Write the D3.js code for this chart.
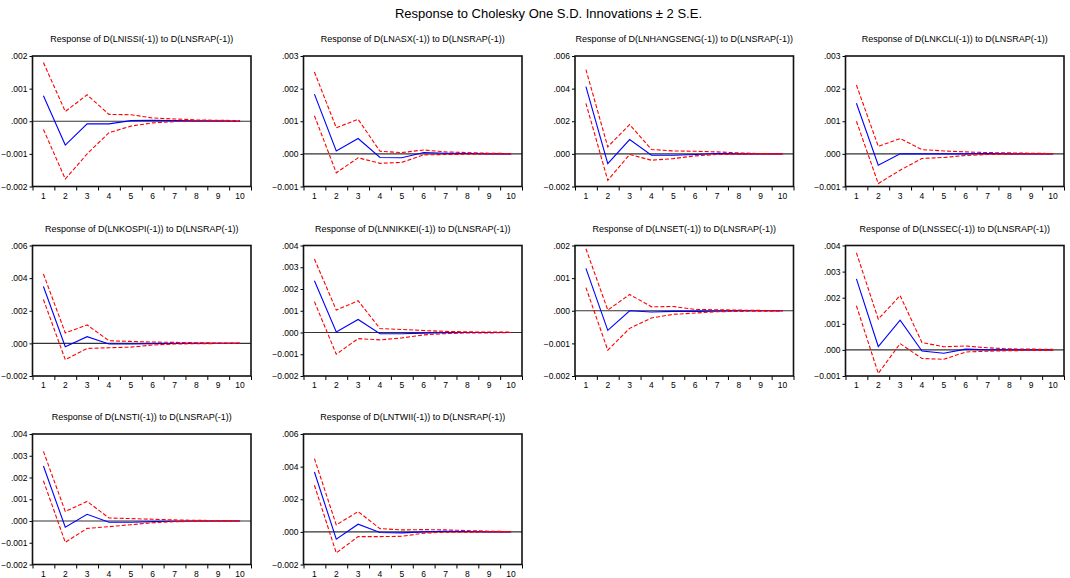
<!DOCTYPE html>
<html>
<head>
<meta charset="utf-8">
<script src="https://cdn.jsdelivr.net/npm/d3@7"></script>
<style>
  html, body { margin: 0; padding: 0; background: #fff; }
  svg { display: block; font-family: Arial, "Liberation Sans", sans-serif; }
</style>
</head>
<body>
<svg id="chart" width="1070" height="578"></svg>
<script>
// Impulse responses to a one S.D. shock in D(LNSRAP(-1)), horizon 1..10
const periods = [1, 2, 3, 4, 5, 6, 7, 8, 9, 10];

const markets = ["LNISSI", "LNASX", "LNHANGSENG", "LNKCLI", "LNKOSPI",
                 "LNNIKKEI", "LNSET", "LNSSEC", "LNSTI", "LNTWII"];

const response = [
  [0.00078, -0.00073, -0.00008, -0.00008, 0.00002, 0.00003, 0.00002, 0.00001, 0.00001, 0.0],
  [0.00183, 0.00009, 0.00047, -0.00011, -0.00012, 0.00004, 0.00002, 0.00001, 0.0, 0.0],
  [0.00412, -0.0006, 0.00088, -0.00008, -0.00008, -0.00004, 0.00002, 0.0, 0.0, 0.0],
  [0.00155, -0.00035, 0.0, 0.0, 0.0, 0.0, 0.00001, 0.0, 0.0, 0.0],
  [0.00349, -0.0002, 0.00041, -0.00004, -0.00004, -0.00002, -0.00001, 0.0, 0.0, 0.0],
  [0.00238, 0.00002, 0.0006, -0.00006, -0.00006, -0.00003, -0.00001, 0.0, 0.0, 0.0],
  [0.0013, -0.0006, 0.0, -0.00004, -0.00002, -0.00002, -0.00001, 0.0, 0.0, 0.0],
  [0.00272, 0.00013, 0.00114, -0.00004, -0.00013, 0.00003, 0.0, 0.0, 0.0, 0.0],
  [0.00253, -0.00029, 0.00031, -0.00006, -0.00006, -0.00003, -0.00001, 0.0, 0.0, 0.0],
  [0.00367, -0.00045, 0.00047, -0.00004, -0.00006, 0.0, 0.00004, 0.00002, 0.0, 0.0]
];

const upperBand = [
  [0.0018, 0.0003, 0.00081, 0.00021, 0.0002, 0.0001, 0.00007, 0.00004, 0.00003, 0.00002],
  [0.00251, 0.0008, 0.00106, 0.00008, 0.00004, 0.00012, 0.00006, 0.00004, 0.00002, 0.00001],
  [0.00517, 0.00043, 0.0018, 0.00027, 0.00018, 0.00016, 0.00012, 0.00006, 0.00002, 0.0],
  [0.00211, 0.00023, 0.00047, 0.00013, 0.00009, 0.00006, 0.00004, 0.00003, 0.00002, 0.00001],
  [0.00425, 0.00064, 0.00113, 0.00016, 0.00012, 0.00008, 0.00006, 0.00004, 0.00002, 0.00002],
  [0.00338, 0.00103, 0.00146, 0.00018, 0.00014, 0.00009, 0.00005, 0.00003, 0.00002, 0.00002],
  [0.0019, 0.00002, 0.0005, 0.00012, 0.00013, 0.00004, 0.00003, 0.00002, 0.00001, 0.0],
  [0.00372, 0.00118, 0.00208, 0.00028, 0.00012, 0.00015, 0.00008, 0.00004, 0.00003, 0.00002],
  [0.0032, 0.00044, 0.0009, 0.00014, 0.00011, 0.00008, 0.00005, 0.00003, 0.00002, 0.00002],
  [0.00449, 0.00043, 0.00124, 0.0002, 0.00012, 0.00014, 0.00012, 0.00008, 0.00004, 0.00002]
];

const lowerBand = [
  [-0.00025, -0.00177, -0.001, -0.00035, -0.00015, -0.00005, -0.00001, 0.0, 0.0, 0.0],
  [0.00117, -0.00058, -0.00012, -0.00029, -0.00026, -0.00003, -0.00002, -0.00001, 0.0, 0.0],
  [0.0031, -0.00162, -0.00004, -0.00039, -0.00029, -0.00012, -0.00004, -0.00002, 0.0, 0.0],
  [0.001, -0.00091, -0.0005, -0.00014, -0.00011, -0.00005, -0.00002, -0.00001, 0.0, 0.0],
  [0.00269, -0.001, -0.00031, -0.00027, -0.00023, -0.0001, -0.00004, -0.00002, -0.00001, -0.00001],
  [0.00142, -0.001, -0.00028, -0.00034, -0.00025, -0.00011, -0.00005, -0.00002, -0.00002, 0.0],
  [0.00071, -0.00121, -0.00054, -0.00022, -0.00011, -0.00007, -0.00003, -0.00002, -0.00001, -0.00001],
  [0.00169, -0.0009, 0.00024, -0.00033, -0.00036, -0.00008, -0.00005, -0.00003, -0.00002, -0.00002],
  [0.00185, -0.00098, -0.00034, -0.00026, -0.00017, -0.00008, -0.00003, -0.00002, -0.00002, 0.0],
  [0.00286, -0.00129, -0.00029, -0.00029, -0.00027, -0.00008, -0.00002, -0.00002, 0.0, 0.0]
];

// y-axis tick values of each panel (first and last are the axis limits)
const yTicks = [
  [-0.002, -0.001, 0, 0.001, 0.002],
  [-0.001, 0, 0.001, 0.002, 0.003],
  [-0.002, 0, 0.002, 0.004, 0.006],
  [-0.001, 0, 0.001, 0.002, 0.003],
  [-0.002, 0, 0.002, 0.004, 0.006],
  [-0.002, -0.001, 0, 0.001, 0.002, 0.003, 0.004],
  [-0.002, -0.001, 0, 0.001, 0.002],
  [-0.001, 0, 0.001, 0.002, 0.003, 0.004],
  [-0.002, -0.001, 0, 0.001, 0.002, 0.003, 0.004],
  [-0.002, 0, 0.002, 0.004, 0.006]
];

const mainTitle = "Response to Cholesky One S.D. Innovations \u00B1 2 S.E.";
const shockName = "LNSRAP";

// grid layout
const colLeft = [32.5, 303.5, 575, 845.5];
const rowTop = [56, 245.5, 434];
const plotW = 218.5;
const plotH = 130.5;

const svg = d3.select("#chart");

svg.append("text")
  .attr("x", 548.5)
  .attr("y", 18)
  .attr("text-anchor", "middle")
  .attr("font-size", 13)
  .attr("fill", "#000")
  .text(mainTitle);

const fmt = v => {
  const s = d3.format(".3f")(Math.abs(v) < 1e-12 ? 0 : v);
  return s.replace(/^(-?)0\./, "$1.");
};

markets.forEach((name, i) => {
  const left = colLeft[i % 4];
  const top = rowTop[Math.floor(i / 4)];
  const ticks = yTicks[i];

  const g = svg.append("g").attr("transform", `translate(${left},${top})`);

  const x = d3.scaleBand().domain(periods).range([0, plotW]);
  const y = d3.scaleLinear().domain([ticks[0], ticks[ticks.length - 1]]).range([plotH, 0]);
  const cx = p => x(p) + x.bandwidth() / 2;

  // panel title
  g.append("text")
    .attr("x", plotW / 2)
    .attr("y", -14)
    .attr("text-anchor", "middle")
    .attr("font-size", 9)
    .attr("fill", "#000")
    .text(`Response of D(${name}(-1)) to D(${shockName}(-1))`);

  // y axis
  const yAxis = g.append("g")
    .call(d3.axisLeft(y).tickValues(ticks).tickFormat(fmt).tickSize(3).tickPadding(2));
  yAxis.select(".domain").remove();
  yAxis.selectAll("text").attr("font-size", 8.5).attr("font-family", null).attr("fill", "#000");
  yAxis.selectAll("line").attr("stroke", "#000");

  // x axis: ticks on band boundaries, labels at band centres
  const edges = d3.scaleLinear().domain([0, periods.length]).range([0, plotW]);
  const xAxis = g.append("g")
    .attr("transform", `translate(0,${plotH})`)
    .call(d3.axisBottom(edges).tickValues(d3.range(periods.length + 1)).tickFormat("").tickSize(4));
  xAxis.select(".domain").remove();
  xAxis.selectAll("line").attr("stroke", "#000");
  g.append("g")
    .attr("transform", `translate(0,${plotH})`)
    .selectAll("text")
    .data(periods)
    .join("text")
    .attr("x", d => cx(d))
    .attr("y", 12)
    .attr("text-anchor", "middle")
    .attr("font-size", 8.5)
    .attr("fill", "#000")
    .text(d => d);

  // zero line
  g.append("line")
    .attr("x1", 0).attr("x2", plotW)
    .attr("y1", y(0)).attr("y2", y(0))
    .attr("stroke", "#333")
    .attr("stroke-width", 1.2);

  const line = d3.line().x((d, j) => cx(periods[j])).y(d => y(d));

  g.append("path")
    .datum(response[i])
    .attr("d", line)
    .attr("fill", "none")
    .attr("stroke", "#0000ff")
    .attr("stroke-width", 1.1);

  [upperBand[i], lowerBand[i]].forEach(band => {
    g.append("path")
      .datum(band)
      .attr("d", line)
      .attr("fill", "none")
      .attr("stroke", "#ff0000")
      .attr("stroke-width", 1.1)
      .attr("stroke-dasharray", "4,2");
  });

  // frame
  g.append("rect")
    .attr("x", 0).attr("y", 0)
    .attr("width", plotW).attr("height", plotH)
    .attr("fill", "none")
    .attr("stroke", "#111")
    .attr("stroke-width", 1.6);
});
</script>
</body>
</html>
